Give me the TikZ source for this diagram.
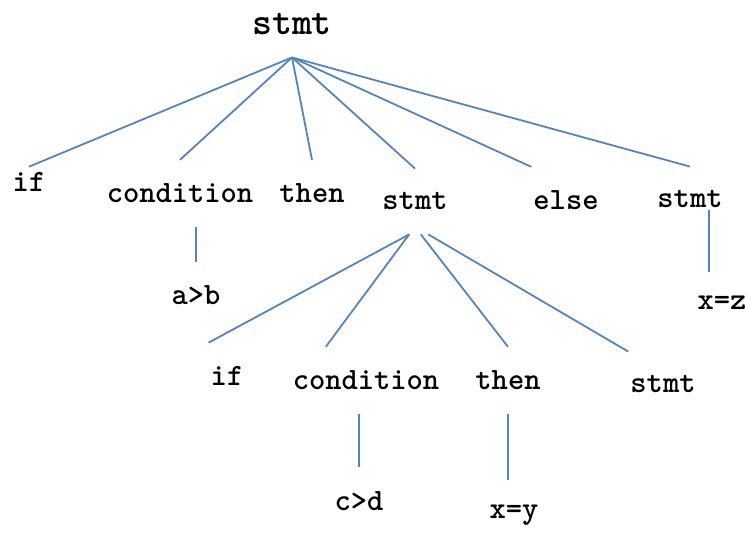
\documentclass[tikz,border=0pt]{standalone}
\usepackage{fontspec}
\usepackage{xcolor}
\usepackage{tikz}
\usetikzlibrary{positioning}
\definecolor{treeblue}{RGB}{84,132,192}
\tikzset{
    treesym/.style={font=\ttfamily\bfseries\fontsize{31}{33}\selectfont, anchor=base, inner xsep=2pt, inner ysep=24pt},
    treeroot/.style={treesym, font=\ttfamily\bfseries\fontsize{38}{40}\selectfont, inner ysep=22pt},
    treeedge/.style={draw=treeblue, line width=1.8pt}
}

\begin{document}
\begin{tikzpicture}[x=1pt, y=-1pt]
    \useasboundingbox (0,0) rectangle (747,534);

    % top level
    \node[treeroot] (root) at (292,35) {stmt};
    \node[treesym, inner ysep=6pt] (if1) at (29,192) {if};
    \node[treesym] (cond1) at (180,203) {condition};
    \node[treesym] (then1) at (312,203) {then};
    \node[treesym] (stmt1) at (415,210) {stmt};
    \node[treesym] (else1) at (566,210) {else};
    \node[treesym] (stmtr) at (690,208) {stmt};
    \node[treesym] (ab) at (196,305) {a>b};
    \node[treesym] (xz) at (722,310) {x=z};

    % nested if
    \node[treesym] (if2) at (227,386) {if};
    \node[treesym] (cond2) at (366,390) {condition};
    \node[treesym] (then2) at (508,390) {then};
    \node[treesym] (stmt2) at (663,393) {stmt};
    \node[treesym] (cd) at (359,510) {c>d};
    \node[treesym] (xy) at (514,518) {x=y};

    \draw[treeedge] (root.south) -- (if1.north);
    \draw[treeedge] (root.south) -- (cond1.north);
    \draw[treeedge] (root.south) -- (then1.north);
    \draw[treeedge] (root.south) -- (stmt1.north);
    \draw[treeedge] (root.south) -- (else1.north west);
    \draw[treeedge] (root.south) -- (stmtr.north);
    \draw[treeedge] (ab.north |- cond1.south) -- (ab.north);
    \draw[treeedge, shorten <=-22pt] (stmtr.-60) -- (stmtr.-60 |- xz.north);

    \draw[treeedge] (stmt1.-100) -- (if2.north west);
    \draw[treeedge] (stmt1.-100) -- (cond2.140);
    \draw[treeedge] (stmt1.-80) -- (then2.north);
    \draw[treeedge] (stmt1.-68) -- (stmt2.north west);
    \draw[treeedge] (cd.north |- cond2.south) -- (cd.north);
    \draw[treeedge] (then2.south) -- (then2.south |- xy.north);
\end{tikzpicture}
\end{document}
